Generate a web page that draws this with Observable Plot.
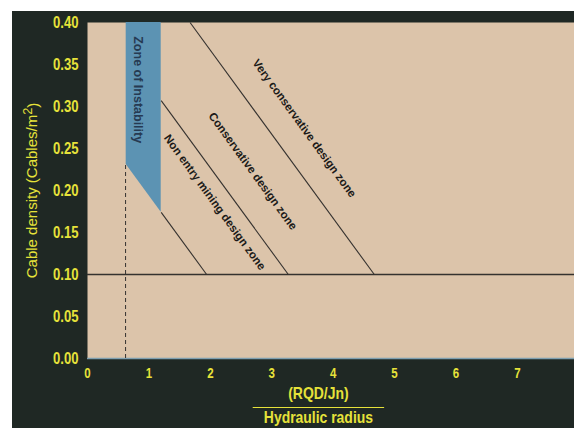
<!DOCTYPE html>
<html>
<head>
<meta charset="utf-8">
<script src="https://cdn.jsdelivr.net/npm/d3@7"></script>
<script src="https://cdn.jsdelivr.net/npm/@observablehq/plot@0.6"></script>
<style>
  html, body { margin: 0; padding: 0; background: #ffffff; overflow: hidden; }
  /* dark board with a white paper edge along the top and left */
  #chart svg {
    display: block;
    background:
      linear-gradient(to bottom, #ffffff 11px, transparent 11px),
      linear-gradient(to right, #ffffff 12px, #1f2824 12px) !important;
  }
</style>
</head>
<body>
<div id="chart"></div>
<script>
// Axis ticks
const xTicks = [0, 1, 2, 3, 4, 5, 6, 7];
const yTicks = [0, 0.05, 0.10, 0.15, 0.20, 0.25, 0.30, 0.35, 0.40];

// Zone of instability (shaded band): left and right edges, sloping floor, flat top
const instabilityX = [0.63, 1.20];
const instabilityFloor = [0.231, 0.174];
const instabilityTop = 0.40;

// Design-zone boundaries: start and end points of each sloping line
const boundaryNames = ["Non entry mining", "Conservative", "Very conservative"];
const boundaryX1 = [1.20, 1.20, 1.67];
const boundaryY1 = [0.174, 0.307, 0.40];
const boundaryX2 = [1.94, 3.27, 4.67];
const boundaryY2 = [0.10, 0.10, 0.10];

// Minimum cable density and the instability limit
const minDensity = 0.10;
const limitX = 0.62;
const limitTop = 0.231;

// Zone labels and where they sit
const zoneText = ["Very conservative design zone", "Conservative design zone", "Non entry mining design zone"];
const zoneX = [3.53, 2.69, 2.07];
const zoneY = [0.274, 0.223, 0.186];

const band = instabilityX.map((x, i) => ({x, y1: instabilityFloor[i], y2: instabilityTop}));
const boundaries = boundaryNames.map((name, i) => ({
  name, x1: boundaryX1[i], y1: boundaryY1[i], x2: boundaryX2[i], y2: boundaryY2[i]
}));
const labels = zoneText.map((text, i) => ({text, x: zoneX[i], y: zoneY[i]}));
const limit = [{x: limitX, y1: 0, y2: limitTop}];
const fractionBar = [{x1: 2.69, x2: 4.83, y: 0}];

const yellow = "#e6e23a";
const ink = "#35322f";

const chart = Plot.plot({
  width: 574,
  height: 428,
  marginLeft: 87,
  marginTop: 22,
  marginBottom: 70,
  marginRight: 0,
  style: {fontFamily: "'Liberation Sans', Arial, sans-serif"},
  x: {domain: [0, 7.93]},
  y: {domain: [0, 0.4]},
  marks: [
    Plot.frame({fill: "#dcc4aa", stroke: null}),
    // baseline edge of the field
    Plot.ruleY([0], {stroke: "#7e9fb0", strokeWidth: 1.5}),
    Plot.areaY(band, {x: "x", y1: "y1", y2: "y2", fill: "#5c93b3"}),
    Plot.ruleY([minDensity], {stroke: ink, strokeWidth: 1.3}),
    Plot.ruleX(limit, {x: "x", y1: "y1", y2: "y2", stroke: ink, strokeWidth: 1, strokeDasharray: "4,3"}),
    Plot.link(boundaries, {x1: "x1", y1: "y1", x2: "x2", y2: "y2", stroke: ink, strokeWidth: 1.1}),
    Plot.text(labels, {x: "x", y: "y", text: "text", rotate: 54, fontSize: 11.5, fontWeight: "bold", fill: "#1b1a18"}),
    Plot.text(["Zone of Instability"], {x: 0.82, y: 0.32, rotate: 90, fontSize: 12.5, fontWeight: "bold", fill: "#263a52"}),
    Plot.axisX(xTicks, {tickSize: 0, tickPadding: 10, fontSize: 14, fontWeight: "bold", fill: yellow, className: "narrow"}),
    Plot.axisY(yTicks, {tickSize: 0, tickPadding: 9, fontSize: 16, fontWeight: "bold", fill: yellow, tickFormat: ".2f", className: "narrow"}),
    // axis titles
    Plot.text(["Cable density (Cables/m2)"], {frameAnchor: "left", y: 0.2, dx: -55, rotate: -90, textAnchor: "middle", fontSize: 15, fill: yellow, className: "ytitle"}),
    Plot.text(["(RQD/Jn)"], {frameAnchor: "bottom", x: 3.76, dy: 35, fontSize: 17, fontWeight: "bold", fill: yellow, lineAnchor: "middle", className: "narrow"}),
    Plot.link(fractionBar, {x1: "x1", x2: "x2", y1: "y", y2: "y", dy: 49, stroke: yellow, strokeWidth: 1.2}),
    Plot.text(["Hydraulic radius"], {frameAnchor: "bottom", x: 3.76, dy: 59, fontSize: 17, fontWeight: "bold", fill: yellow, lineAnchor: "middle", className: "narrow"})
  ]
});

// Superscript for the unit in the y title
d3.select(chart).selectAll(".ytitle text").each(function() {
  const t = d3.select(this);
  t.text(null);
  t.append("tspan").text("Cable density (Cables/m");
  t.append("tspan").attr("dy", "-0.45em").attr("font-size", "0.85em").text("2");
  t.append("tspan").attr("dy", "0.45em").text(")");
});

document.getElementById("chart").appendChild(chart);

// Condensed lettering for the axis numbers and the x title
d3.select(chart).selectAll(".narrow text").each(function() {
  const w = this.getComputedTextLength();
  if (w > 0) {
    this.setAttribute("lengthAdjust", "spacingAndGlyphs");
    this.setAttribute("textLength", (w * 0.82).toFixed(1));
  }
});
</script>
</body>
</html>
